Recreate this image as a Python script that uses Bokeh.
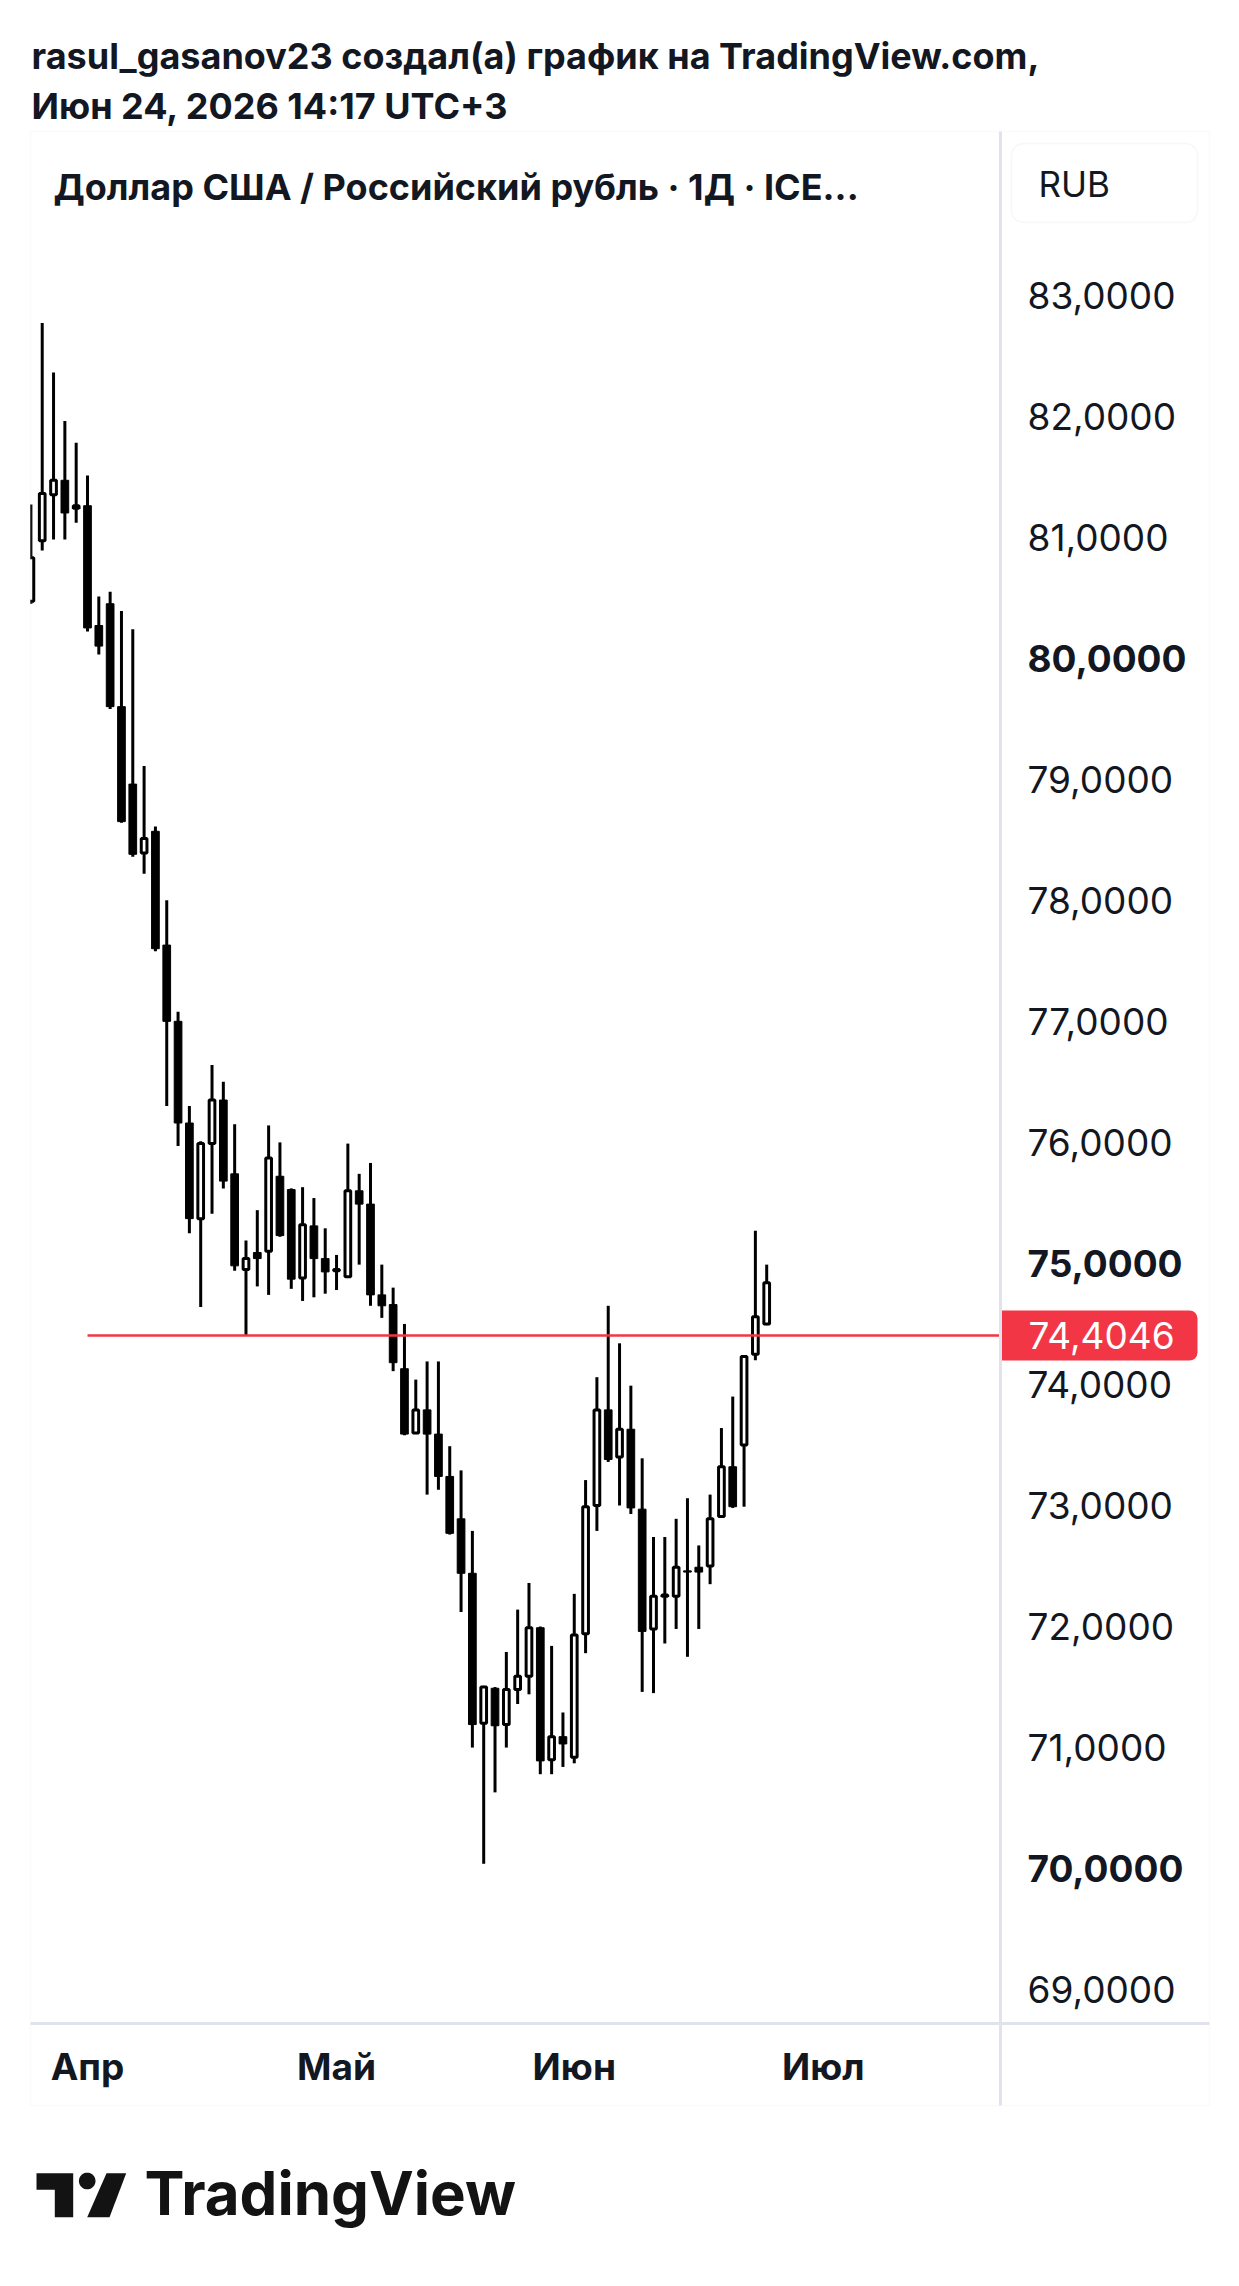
import numpy as np
import pandas as pd
from bokeh.plotting import figure
from bokeh.models import (Range1d, Label, BoxAnnotation, PolyAnnotation,
                          ColumnDataSource)
from bokeh.embed import file_html
from bokeh.resources import INLINE

# ---------------- data ----------------
dates = [d.strftime("%Y-%m-%d") for d in pd.bdate_range("2026-03-25", "2026-06-24")]

opens = [80.47, 80.97, 81.35, 81.47, 81.24, 81.26, 80.27, 80.45, 79.60, 78.96,
         78.39, 78.57, 77.63, 77.00, 76.16, 75.37, 75.99, 76.35, 75.74, 74.95,
         75.09, 75.10, 75.72, 75.61, 74.88, 75.31, 75.04, 74.94, 74.89, 75.60,
         75.49, 74.74, 74.66, 74.13, 73.60, 73.79, 73.59, 73.24, 72.89, 72.44,
         71.20, 71.49, 71.19, 71.48, 71.59, 71.99, 70.90, 71.09, 70.92, 71.94,
         73.00, 73.79, 73.40, 73.63, 72.97, 71.98, 72.25, 72.25, 72.46, 72.49,
         72.50, 72.91, 73.32, 73.50, 74.25, 74.50]
highs = [81.27, 82.77, 82.36, 81.96, 81.78, 81.51, 80.51, 80.55, 80.39, 80.24,
         79.11, 78.61, 78.00, 77.08, 76.30, 76.01, 76.64, 76.50, 76.15, 75.19,
         75.44, 76.14, 76.00, 75.62, 75.63, 75.54, 75.29, 75.07, 75.99, 75.74,
         75.83, 74.99, 74.80, 74.50, 74.04, 74.19, 74.19, 73.49, 73.29, 72.79,
         71.51, 71.50, 71.79, 72.14, 72.36, 72.00, 71.84, 71.29, 72.27, 73.21,
         74.06, 74.65, 74.34, 73.99, 73.39, 72.74, 72.74, 72.89, 73.06, 72.67,
         73.09, 73.64, 73.90, 74.23, 75.27, 74.99]
lows = [80.45, 80.89, 80.98, 80.98, 81.12, 80.22, 80.03, 79.58, 78.64, 78.36,
        78.22, 77.58, 76.30, 75.97, 75.25, 74.64, 75.41, 75.62, 74.94, 74.40,
        74.81, 74.74, 75.22, 74.79, 74.69, 74.72, 74.75, 74.78, 74.88, 74.99,
        74.65, 74.55, 74.11, 73.58, 73.59, 73.09, 73.13, 72.76, 72.12, 71.00,
        70.04, 70.63, 71.00, 71.36, 71.44, 70.78, 70.78, 70.84, 70.87, 71.78,
        72.79, 73.36, 73.00, 72.93, 71.46, 71.45, 71.86, 71.98, 71.75, 71.98,
        72.35, 72.90, 72.98, 72.99, 74.20, 74.49]
closes = [80.83, 81.36, 81.47, 81.20, 81.26, 80.25, 80.10, 79.60, 78.65, 78.38,
          78.51, 77.60, 77.00, 76.16, 75.37, 75.99, 76.35, 75.68, 74.98, 75.04,
          75.04, 75.87, 75.23, 74.87, 75.32, 75.04, 74.93, 74.95, 75.60, 75.49,
          74.74, 74.65, 74.18, 73.59, 73.79, 73.59, 73.24, 72.77, 72.44, 71.19,
          71.50, 71.18, 71.48, 71.59, 71.99, 70.89, 71.09, 71.03, 71.93, 72.99,
          73.79, 73.38, 73.63, 72.98, 71.96, 72.25, 72.26, 72.49, 72.45, 72.45,
          72.89, 73.32, 72.99, 74.23, 74.56, 74.84]

month_dates = ["2026-04-01", "2026-05-01", "2026-06-01", "2026-07-01"]
month_labels = ["Апр", "Май", "Июн", "Июл"]
price_ticks = [69, 70, 71, 72, 73, 74, 75, 76, 77, 78, 79, 80, 81, 82, 83]
bold_ticks = [70, 75, 80]
hline_price = 74.4046
hline_start = "2026-04-01"
currency = "RUB"
header1 = "rasul_gasanov23 создал(а) график на TradingView.com,"
header2 = "Июн 24, 2026 14:17 UTC+3"
chart_title = "Доллар США / Российский рубль · 1Д · ICE..."

# ---------------- geometry (page pixels -> data) ----------------
X0, DX = 30.4, 11.32          # centre of bar 0, pixels per bar
Y83, PY = 294.6, 121.04       # pixel row of 83.0, pixels per rouble
W, H = 1231, 2278


def px_x(X):
    return (X - X0) / DX


def px_y(Y):
    return 83 - (Y - Y83) / PY


def fmt(v, nd=4):
    return f"{v:.{nd}f}".replace(".", ",")


idx = np.arange(len(dates))
o = np.array(opens); h = np.array(highs); l = np.array(lows); c = np.array(closes)
up = c >= o
first = np.datetime64(dates[0])
month_idx = [int(np.busday_count(first, np.datetime64(d))) for d in month_dates]
hstart = int(np.busday_count(first, np.datetime64(hline_start)))

FONT = "Inter"
TXT = "#131722"
SEP = "#e0e3eb"

p = figure(width=W, height=H,
           x_range=Range1d(px_x(0), px_x(W)),
           y_range=Range1d(px_y(H), px_y(0)),
           x_axis_location=None, y_axis_location=None, min_border=0,
           output_backend="svg", toolbar_location=None)
p.background_fill_color = "white"
p.border_fill_color = "white"
p.outline_line_color = None
p.xgrid.visible = False
p.ygrid.visible = False

# ---------------- candles ----------------
src_all = ColumnDataSource(dict(x=idx, lo=l, hi=h))
p.segment(x0="x", y0="lo", x1="x", y1="hi", source=src_all,
          line_color="black", line_width=3)

src_dn = ColumnDataSource(dict(x=idx[~up], top=o[~up], bot=c[~up]))
p.vbar(x="x", top="top", bottom="bot", width=7.7 / DX, source=src_dn,
       fill_color="black", line_color="black", line_width=1)

src_up = ColumnDataSource(dict(x=idx[up], top=c[up], bot=o[up]))
p.vbar(x="x", top="top", bottom="bot", width=5.7 / DX, source=src_up,
       fill_color="white", line_color="black", line_width=3)

# horizontal line drawn from the April 1 bar to the price scale
p.segment(x0=[hstart], y0=[hline_price], x1=[px_x(1000)], y1=[hline_price],
          line_color="#f23645", line_width=2.5)

# mask the part of the first bar that is left of the pane
p.add_layout(BoxAnnotation(left=px_x(0), right=px_x(29.5),
                           top=px_y(131), bottom=px_y(2105),
                           fill_color="white", fill_alpha=1, line_color=None))

# ---------------- pane frame & separators ----------------
p.add_layout(BoxAnnotation(left=px_x(30), right=px_x(1209),
                           top=px_y(131), bottom=px_y(2105),
                           fill_color=None, line_color="#eceef2", line_width=1.5))
p.add_layout(BoxAnnotation(left=px_x(998.5), right=px_x(1001.5),
                           top=px_y(131), bottom=px_y(2105),
                           fill_color=SEP, fill_alpha=1, line_color=None))
p.add_layout(BoxAnnotation(left=px_x(30), right=px_x(1209),
                           top=px_y(2021.5), bottom=px_y(2024.5),
                           fill_color=SEP, fill_alpha=1, line_color=None))

# ---------------- price scale labels ----------------
for t in price_ticks:
    p.add_layout(Label(x=px_x(1027), y=t, text=fmt(t), text_font=FONT,
                       text_font_size="37px",
                       text_font_style="bold" if t in bold_ticks else "normal",
                       text_color=TXT, text_align="left", text_baseline="middle"))

# ---------------- time scale labels ----------------
for mi, ml in zip(month_idx, month_labels):
    p.add_layout(Label(x=mi, y=px_y(2066), text=ml, text_font=FONT,
                       text_font_size="37px", text_font_style="bold",
                       text_color=TXT, text_align="center", text_baseline="middle"))

# ---------------- price label of the line ----------------
red_box = BoxAnnotation(left=px_x(1001.5), right=px_x(1197),
                        top=hline_price + 25 / PY, bottom=hline_price - 25 / PY,
                        fill_color="#f23645", fill_alpha=1, line_color=None)
try:
    red_box.border_radius = (0, 8, 8, 0)
except Exception:
    pass
p.add_layout(red_box)
p.add_layout(Label(x=px_x(1028), y=hline_price, text=fmt(hline_price),
                   text_font=FONT, text_font_size="37px", text_color="white",
                   text_align="left", text_baseline="middle"))

# ---------------- currency box ----------------
rub_box = BoxAnnotation(left=px_x(1011), right=px_x(1197),
                        top=px_y(143), bottom=px_y(222),
                        fill_color=None, line_color=SEP, line_width=1.5)
try:
    rub_box.border_radius = 12
except Exception:
    pass
p.add_layout(rub_box)
p.add_layout(Label(x=px_x(1038), y=px_y(183), text=currency, text_font=FONT,
                   text_font_size="35px", text_color=TXT,
                   text_align="left", text_baseline="middle"))

# ---------------- header texts ----------------
for txt, xx, yy, size in [(header1, 31, 55, "36px"),
                          (header2, 31, 105, "36px"),
                          (chart_title, 53, 186, "36px")]:
    p.add_layout(Label(x=px_x(xx), y=px_y(yy), text=txt, text_font=FONT,
                       text_font_size=size, text_font_style="bold",
                       text_color=TXT, text_align="left",
                       text_baseline="middle"))

# ---------------- TradingView logo ----------------
LOGO = "#131313"
t_shape = [(36, 2172.7), (72.7, 2172.7), (72.7, 2216.7), (54.3, 2216.7),
           (54.3, 2189.3), (36, 2189.3)]
slash = [(106, 2172.7), (125.7, 2172.7), (109, 2216.7), (86.7, 2216.7)]
ang = np.linspace(0, 2 * np.pi, 40, endpoint=False)
dot = [(86.7 + 8.3 * np.cos(a), 2180.5 + 8.3 * np.sin(a)) for a in ang]
for shape in (t_shape, slash, dot):
    p.add_layout(PolyAnnotation(xs=[px_x(a) for a, b in shape],
                                ys=[px_y(b) for a, b in shape],
                                fill_color=LOGO, fill_alpha=1, line_color=None))
p.add_layout(Label(x=px_x(144), y=px_y(2192), text="TradingView",
                   text_font=FONT, text_font_size="60px", text_font_style="bold",
                   text_color=LOGO, text_align="left", text_baseline="middle"))

with open("out.html", "w", encoding="utf-8") as f:
    f.write(file_html(p, INLINE, title="USD/RUB"))
